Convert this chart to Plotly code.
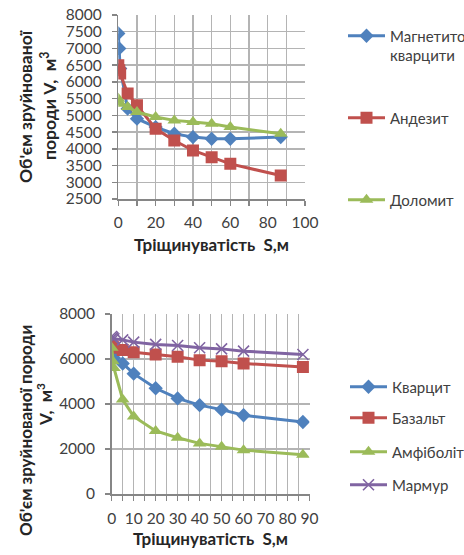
import plotly.graph_objects as go

# ---------- data ----------
S_top = [0, 0.5, 1, 5, 10, 20, 30, 40, 50, 60, 87]
magnetite = [7450, 7000, 6400, 5200, 4900, 4650, 4450, 4350, 4300, 4300, 4350]
andesite = [6500, 6350, 6250, 5650, 5300, 4600, 4250, 3950, 3750, 3550, 3200]
dolomite = [5500, 5400, 5350, 5250, 5100, 4950, 4850, 4800, 4750, 4650, 4450]

S_bot = [0, 0.5, 1, 5, 10, 20, 30, 40, 50, 60, 87]
quartzite = [6550, 6250, 6050, 5800, 5350, 4700, 4250, 3950, 3750, 3500, 3200]
basalt = [6600, 6550, 6500, 6400, 6300, 6200, 6100, 5950, 5900, 5800, 5650]
amphibolite = [6500, 5900, 5600, 4200, 3450, 2800, 2500, 2250, 2100, 1950, 1750]
marble = [7000, 6950, 6900, 6850, 6750, 6650, 6600, 6500, 6450, 6350, 6200]

W, H = 464, 555
FONT = "Lato"
BLUE, RED, GREEN, PURPLE = "#4F81BD", "#C0504D", "#9BBB59", "#8064A2"
GRID = "#b4b4b4"
AXL = "#868686"

def px(x):
    return x / W

def py(y):
    return 1 - y / H

fig = go.Figure()

top = [
    ("&nbsp;<br>Магнетитові<br>кварцити", magnetite, BLUE, "diamond", 11, "legend", 36),
    ("Андезит", andesite, RED, "square", 12, "legend2", 118),
    ("Доломит", dolomite, GREEN, "triangle-up", 12, "legend3", 200),
]
for name, ys, col, sym, sz, lg, _ in top:
    fig.add_trace(go.Scatter(
        x=S_top, y=ys, name=name, mode="lines+markers",
        line=dict(color=col, width=3),
        marker=dict(symbol=sym, size=sz, color=col),
        xaxis="x", yaxis="y", legend=lg))

bot = [
    ("Кварцит", quartzite, BLUE, "diamond", 11, "legend4", 387),
    ("Базальт", basalt, RED, "square", 12, "legend5", 418),
    ("Амфіболіт", amphibolite, GREEN, "triangle-up", 12, "legend6", 452),
    ("Мармур", marble, PURPLE, "x-thin", 11, "legend7", 485),
]
for name, ys, col, sym, sz, lg, _ in bot:
    mk = dict(symbol=sym, size=sz, color=col)
    if sym == "x-thin":
        mk["line"] = dict(color=col, width=1.6)
    fig.add_trace(go.Scatter(
        x=S_bot, y=ys, name=name, mode="lines+markers",
        line=dict(color=col, width=3),
        marker=mk,
        xaxis="x2", yaxis="y2", legend=lg))

tickfont = dict(family=FONT, size=15.5, color="#404040")

def axis(**kw):
    d = dict(showline=True, linecolor=AXL, linewidth=1.5,
             showgrid=True, gridcolor=GRID, gridwidth=1.5,
             ticks="outside", ticklen=5, tickcolor=AXL, tickwidth=1.5,
             tickfont=tickfont, zeroline=False, tickangle=0, fixedrange=True)
    d.update(kw)
    return d

def minor(dt):
    return dict(dtick=dt, showgrid=True, gridcolor=GRID, gridwidth=1.5,
                ticks="outside", ticklen=5, tickcolor=AXL, tickwidth=1.5)

layout = dict(
    width=W, height=H,
    paper_bgcolor="white", plot_bgcolor="white",
    margin=dict(l=0, r=0, t=0, b=0, autoexpand=False),
    showlegend=True,
    xaxis=axis(domain=[px(118.3), px(305)], range=[0, 100], dtick=20, tick0=0,
               anchor="y", minor=minor(10), ticklabelstandoff=4),
    yaxis=axis(domain=[py(199), py(15)], range=[2500, 8000], dtick=500, tick0=0,
               anchor="x", ticklabelstandoff=7),
    xaxis2=axis(domain=[px(111.7), px(309.5)], range=[0, 90], dtick=10, tick0=0,
                anchor="y2", minor=minor(5), ticklabelstandoff=5),
    yaxis2=axis(domain=[py(494), py(314)], range=[0, 8000], dtick=2000, tick0=0,
                anchor="x2", ticklabelstandoff=7),
)

legfont = dict(family=FONT, size=15, color="#404040")
for name, ys, col, sym, sz, lg, ycen in top + bot:
    xl = 343 if lg in ("legend", "legend2", "legend3") else 345
    layout[lg] = dict(x=px(xl), xanchor="left", y=py(ycen), yanchor="middle",
                      font=legfont, bgcolor="rgba(0,0,0,0)", itemwidth=37,
                      borderwidth=0)

fig.update_layout(**layout)

ann = [
    ("Об'єм зруйнованої", 25, 107, -90, 17.5),
    ("породи V,  м<sup>3</sup>", 48, 106, -90, 17.5),
    ("Тріщинуватість  S,м", 211.5, 245, 0, 17),
    ("Об'єм зруйнованої породи", 25, 431, -90, 17),
    ("V,  м<sup>3</sup>", 44, 405, -90, 17),
    ("Тріщинуватість  S,м", 210, 538, 0, 17),
]
for t, x, y, a, fs in ann:
    fig.add_annotation(text=t, x=px(x), y=py(y), xref="paper", yref="paper",
                       xanchor="center", yanchor="middle", showarrow=False,
                       textangle=a,
                       font=dict(family=FONT, size=fs, color="#262626", weight="bold"))

fig.write_html("out.html",
               config={"displayModeBar": False, "staticPlot": True},
               post_script="document.body.style.margin='0';document.body.style.overflow='hidden';")
